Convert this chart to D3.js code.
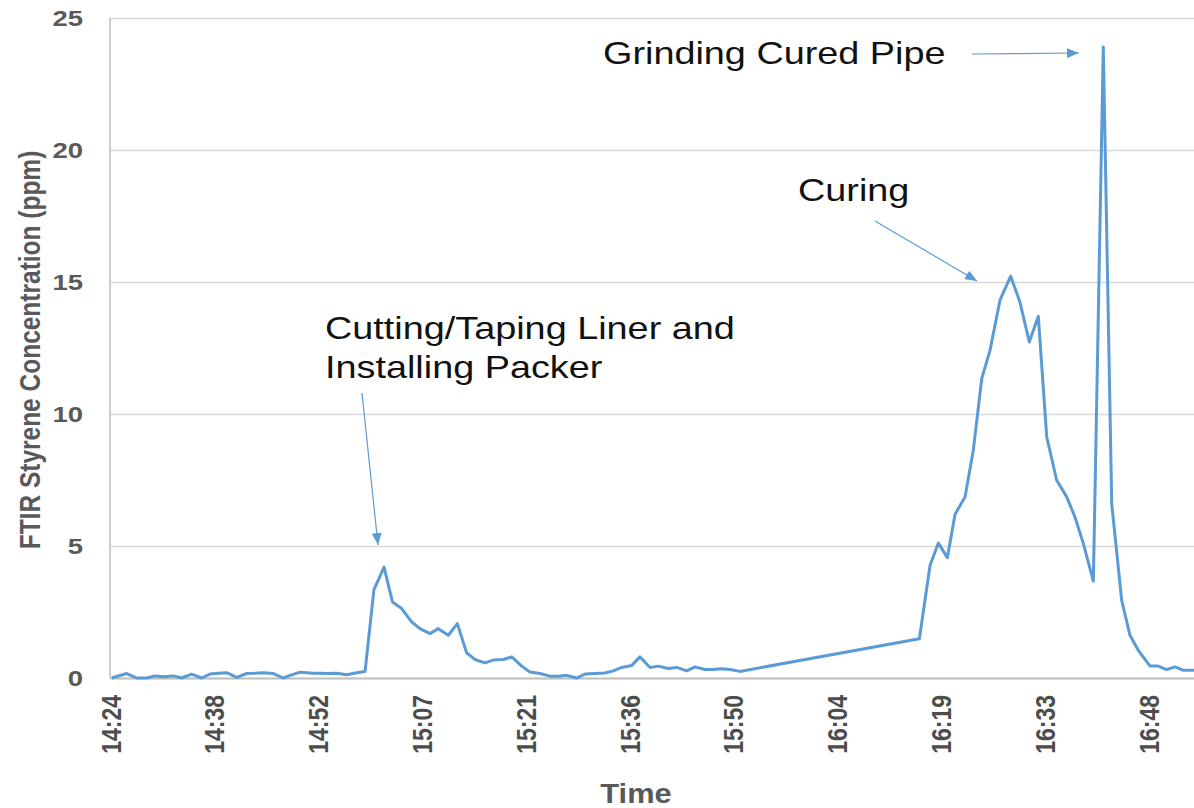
<!DOCTYPE html>
<html>
<head>
<meta charset="utf-8">
<script src="https://cdn.jsdelivr.net/npm/d3@7"></script>
<style>
  html, body { margin: 0; padding: 0; background: #fff; }
  svg { display: block; font-family: "Liberation Sans", Arial, sans-serif; }
</style>
</head>
<body>
<div id="chart"></div>
<script>
// Sample times (clock) and FTIR styrene readings (ppm)
const times = [
  "14:24:14","14:26:19","14:27:42","14:29:05","14:30:14","14:31:23","14:32:47","14:33:57","14:35:20","14:36:43",
  "14:37:52","14:39:01","14:40:11","14:41:35","14:42:58","14:44:06","14:45:16","14:46:40","14:48:02","14:49:12",
  "14:50:22","14:51:17","14:52:12","14:53:08","14:54:04","14:55:27","14:56:50","14:58:13","14:59:23","15:00:37",
  "15:02:01","15:03:11","15:04:28","15:05:52","15:07:00","15:08:23","15:09:33","15:10:56","15:12:11","15:13:29",
  "15:14:38","15:16:01","15:17:10","15:18:34","15:19:44","15:21:07","15:22:16","15:23:39","15:25:02","15:26:11",
  "15:27:22","15:28:44","15:29:54","15:31:17","15:32:40","15:33:49","15:34:59","15:36:22","15:37:31","15:38:55",
  "15:40:04","15:41:27","15:42:37","15:44:00","15:45:10","15:46:32","15:47:42","15:48:52","15:50:01","15:51:24",
  "16:16:17","16:17:46","16:18:55","16:20:10","16:21:14","16:22:37","16:23:46","16:24:56","16:26:05","16:27:28",
  "16:28:57","16:30:14","16:31:32","16:32:47","16:33:57","16:35:20","16:36:43","16:37:52","16:39:02","16:40:25",
  "16:41:48","16:42:58","16:44:21","16:45:30","16:46:39","16:48:17","16:49:26","16:50:35","16:51:45","16:52:54",
  "16:54:23"
];
const styrene = [
  0, 0.17, 0, 0, 0.08, 0.05, 0.08, 0, 0.15, 0,
  0.15, 0.18, 0.2, 0.02, 0.17, 0.18, 0.2, 0.17, 0, 0.12,
  0.22, 0.2, 0.18, 0.18, 0.17, 0.18, 0.12, 0.2, 0.25, 3.35,
  4.2, 2.88, 2.63, 2.12, 1.87, 1.68, 1.87, 1.62, 2.06, 0.95,
  0.7, 0.57, 0.68, 0.7, 0.8, 0.45, 0.23, 0.17, 0.07, 0.07,
  0.1, 0, 0.15, 0.17, 0.19, 0.27, 0.4, 0.47, 0.8, 0.4,
  0.45, 0.36, 0.4, 0.27, 0.42, 0.32, 0.32, 0.35, 0.32, 0.25,
  1.49, 4.27, 5.11, 4.56, 6.2, 6.86, 8.63, 11.34, 12.41, 14.31,
  15.22, 14.24, 12.73, 13.7, 9.13, 7.49, 6.86, 6.1, 5.09, 3.67,
  23.9, 6.6, 2.94, 1.62, 1.05, 0.45, 0.45, 0.32, 0.42, 0.29,
  0.29
];

// Excel-style date axis: ticks every 0.01 day
const xTickDays = [0.60, 0.61, 0.62, 0.63, 0.64, 0.65, 0.66, 0.67, 0.68, 0.69, 0.70];
const xTickLabels = ["14:24", "14:38", "14:52", "15:07", "15:21", "15:36", "15:50", "16:04", "16:19", "16:33", "16:48"];
const yTicks = [0, 5, 10, 15, 20, 25];

const notes = [
  ["Cutting/Taping Liner and", "Installing Packer"],
  ["Curing"],
  ["Grinding Cured Pipe"]
];

const toDay = s => {
  const [h, m, sec] = s.split(":").map(Number);
  return (h * 3600 + m * 60 + sec) / 86400;
};
const data = times.map((t, i) => ({ day: toDay(t), value: styrene[i] }));

// the original picture is stretched sideways, so text gets the same stretch
const sx = 1.22;
const width = 1194;
const height = 808;
const plot = { left: 110, right: 1194, top: 18, bottom: 678 };

const xScale = d3.scaleLinear()
  .domain([0.60, 0.60 + (plot.right - plot.left) / 10380])
  .range([plot.left, plot.right]);

const yScale = d3.scaleLinear()
  .domain([0, 25])
  .range([plot.bottom, plot.top]);

const svg = d3.select("#chart")
  .append("svg")
  .attr("width", width)
  .attr("height", height)
  .attr("viewBox", `0 0 ${width} ${height}`);

svg.append("rect").attr("width", width).attr("height", height).attr("fill", "#fff");

// arrow head
svg.append("defs").append("marker")
  .attr("id", "head")
  .attr("markerUnits", "userSpaceOnUse")
  .attr("viewBox", "0 0 12 10")
  .attr("refX", 12).attr("refY", 5)
  .attr("markerWidth", 12).attr("markerHeight", 10)
  .attr("orient", "auto")
  .append("path")
  .attr("d", "M0,0 L12,5 L0,10 z")
  .attr("fill", "#5b9bd5");

// gridlines
const yAxis = d3.axisLeft(yScale)
  .tickValues(yTicks)
  .tickSize(-(plot.right - plot.left))
  .tickFormat("");

const yG = svg.append("g")
  .attr("transform", `translate(${plot.left},0)`)
  .call(yAxis);
yG.select(".domain").remove();
yG.selectAll(".tick line")
  .attr("stroke", "#d9d9d9")
  .attr("stroke-width", 1.3);

// y labels, right edge at x = 83
svg.append("g")
  .selectAll("text")
  .data(yTicks)
  .join("text")
  .attr("transform", d => `translate(83,${yScale(d)}) scale(${sx},1)`)
  .attr("dy", "0.36em")
  .attr("text-anchor", "end")
  .attr("fill", "#595959")
  .style("font-size", "22.5px")
  .style("font-weight", "bold")
  .text(d => d);

// left axis line
svg.append("line")
  .attr("x1", plot.left).attr("x2", plot.left)
  .attr("y1", yScale(25)).attr("y2", yScale(0))
  .attr("stroke", "#bfbfbf")
  .attr("stroke-width", 1.5);

// x axis
const xAxis = d3.axisBottom(xScale)
  .tickValues(xTickDays)
  .tickSize(0)
  .tickFormat((d, i) => xTickLabels[i]);

const xG = svg.append("g")
  .attr("transform", `translate(0,${plot.bottom})`)
  .call(xAxis);
xG.select(".domain")
  .attr("stroke", "#bfbfbf")
  .attr("stroke-width", 2.2);
xG.selectAll(".tick text")
  .attr("x", 0)
  .attr("y", 0)
  .attr("dy", "0.36em")
  .attr("text-anchor", "end")
  .attr("transform", `translate(0,17) scale(${sx},1) rotate(-90)`)
  .attr("fill", "#4d4d4d")
  .style("font-size", "23px")
  .style("font-weight", "bold");

// axis titles
svg.append("text")
  .attr("transform", `translate(40,350) scale(${sx},1) rotate(-90)`)
  .attr("text-anchor", "middle")
  .attr("fill", "#595959")
  .style("font-size", "24.5px")
  .style("font-weight", "bold")
  .text("FTIR Styrene Concentration (ppm)");

svg.append("text")
  .attr("transform", `translate(636,803) scale(1.1,1)`)
  .attr("text-anchor", "middle")
  .attr("fill", "#595959")
  .style("font-size", "28px")
  .style("font-weight", "bold")
  .text("Time");

// the series
const line = d3.line()
  .x(d => xScale(d.day))
  .y(d => yScale(d.value));

svg.append("path")
  .datum(data)
  .attr("d", line)
  .attr("fill", "none")
  .attr("stroke", "#5b9bd5")
  .attr("stroke-width", 3)
  .attr("stroke-linejoin", "round");

// annotations
const noteSpots = [
  { x: 325, y: 339, from: [362, 393], to: [378, 545] },
  { x: 798, y: 201, from: [875, 221], to: [977, 281] },
  { x: 603, y: 64, from: [972, 54], to: [1079, 53] }
];

notes.forEach((lines, i) => {
  const spot = noteSpots[i];
  const t = svg.append("text")
    .attr("transform", `translate(${spot.x},${spot.y}) scale(${sx},1)`)
    .attr("fill", "#111")
    .style("font-size", "31px");
  lines.forEach((s, j) => {
    t.append("tspan").attr("x", 0).attr("y", j * 39).text(s);
  });
  svg.append("line")
    .attr("x1", spot.from[0]).attr("y1", spot.from[1])
    .attr("x2", spot.to[0]).attr("y2", spot.to[1])
    .attr("stroke", "#5b9bd5")
    .attr("stroke-width", 1.2)
    .attr("marker-end", "url(#head)");
});
</script>
</body>
</html>
